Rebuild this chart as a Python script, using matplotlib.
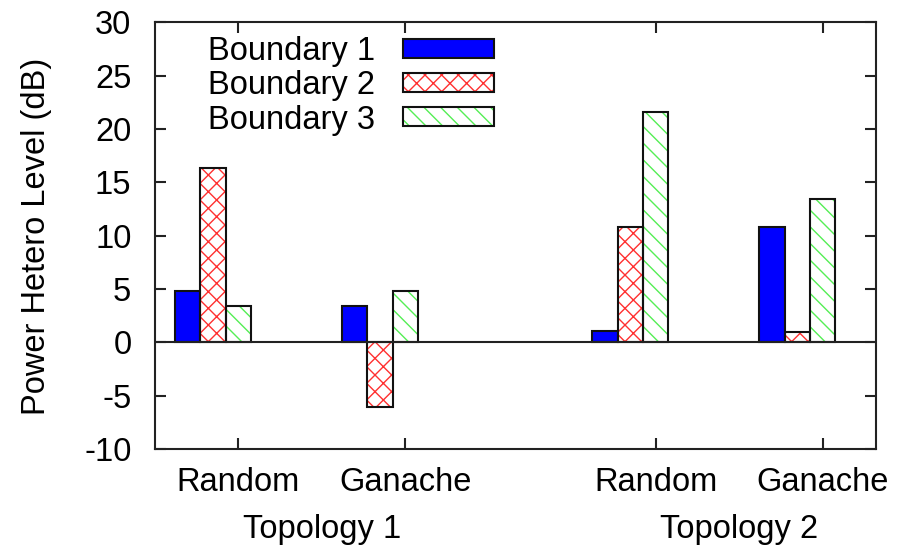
import matplotlib.pyplot as plt
from matplotlib.patches import Patch
import numpy as np

plt.rcParams['font.family'] = ['Liberation Sans', 'DejaVu Sans']
plt.rcParams['hatch.linewidth'] = 1.0
plt.rcParams['axes.unicode_minus'] = False

# bar values (dB) per scheme: Topology 1 Random, Ganache, Topology 2 Random, Ganache
schemes = ['Random', 'Ganache', 'Random', 'Ganache']
topologies = ['Topology 1', 'Topology 2']
series = ['Boundary 1', 'Boundary 2', 'Boundary 3']
boundary1 = [4.8, 3.4, 1.1, 10.8]
boundary2 = [16.3, -6.1, 10.8, 1.0]
boundary3 = [3.4, 4.8, 21.6, 13.4]

xpos = np.array([0, 1, 2.5, 3.5])
width = 0.152
fs = 23.5

# fill colour, hatch colour, hatch pattern
styles = [
    ('#0000ff', '#0000ff', ''),
    ('white', '#ff3030', 'xx'),
    ('white', '#55ee55', '\\\\'),
]

fig = plt.figure(figsize=(8.98, 5.47), dpi=100)
ax = fig.add_axes([155 / 898, 1 - 449 / 547, (876 - 155) / 898, (449 - 22.3) / 547])

handles = []
for i, (vals, (fc, hc, hatch)) in enumerate(zip([boundary1, boundary2, boundary3], styles)):
    x = xpos + (i - 2) * width
    ax.bar(x, vals, width, color=fc, edgecolor=hc, hatch=hatch, linewidth=0, zorder=2)
    ax.bar(x, vals, width, fill=False, edgecolor='#111111', linewidth=1.5, zorder=3)
    handles.append((Patch(facecolor=fc, edgecolor=hc, hatch=hatch, linewidth=0),
                    Patch(fill=False, edgecolor='#111111', linewidth=1.5)))

ax.axhline(0, color='#222222', linewidth=1.5, zorder=4)

ax.set_xlim(-0.5, 3.82)
ax.set_ylim(-10, 30)
ax.set_yticks(np.arange(-10, 31, 5))
ax.set_xticks(xpos)
ax.set_xticklabels(schemes)
ax.tick_params(direction='in', top=True, right=True, length=8, width=1.5,
               labelsize=fs, color='#222222')
ax.tick_params(axis='y', pad=17)
ax.tick_params(axis='x', pad=13)
for s in ax.spines.values():
    s.set_linewidth(1.5)
    s.set_color('#222222')

for k, name in enumerate(topologies):
    xc = (xpos[2 * k] + xpos[2 * k + 1]) / 2
    ax.annotate(name, xy=(xc, 0), xycoords=('data', 'axes fraction'),
                xytext=(0, -89), textcoords='offset pixels',
                ha='center', va='baseline', fontsize=fs)

fig.text(37 / 898, 1 - 236 / 547, 'Power Hetero Level (dB)', rotation=90,
         ha='center', va='center', fontsize=fs)

ax.legend(handles, series, loc='upper right', bbox_to_anchor=(494 / 898, 1 - 36 / 547),
          bbox_transform=fig.transFigure, frameon=False, fontsize=fs,
          markerfirst=False, handlelength=2.8, handleheight=0.52,
          handletextpad=0.85, labelspacing=0.1, borderpad=0, borderaxespad=0)

fig.savefig('out.png', dpi=100)
